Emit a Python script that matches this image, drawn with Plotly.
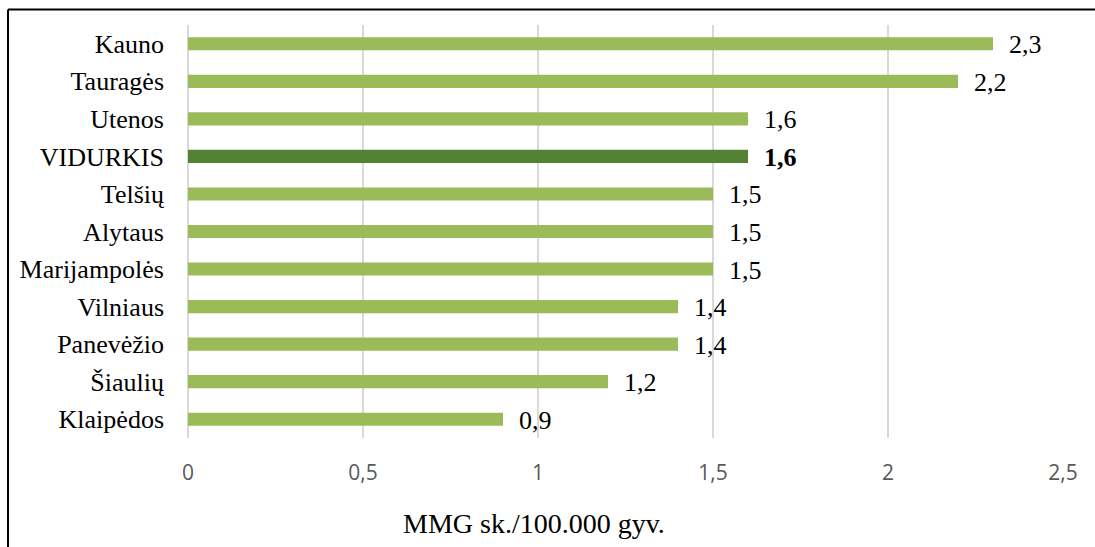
import plotly.graph_objects as go

# Regional values, top to bottom
regions = ["Kauno", "Tauragės", "Utenos", "VIDURKIS", "Telšių", "Alytaus",
           "Marijampolės", "Vilniaus", "Panevėžio", "Šiaulių", "Klaipėdos"]
values = [2.3, 2.2, 1.6, 1.6, 1.5, 1.5, 1.5, 1.4, 1.4, 1.2, 0.9]
average_label = "VIDURKIS"

x_ticks = [0, 0.5, 1, 1.5, 2, 2.5]
x_tick_text = ["0", "0,5", "1", "1,5", "2", "2,5"]
axis_title = "MMG sk./100.000 gyv."

LIGHT = "#9bbb59"
DARK = "#548235"
SERIF = "Liberation Serif, Times New Roman, serif"

colors = [DARK if r == average_label else LIGHT for r in regions]

fig = go.Figure(go.Bar(
    x=values, y=regions, orientation="h",
    marker=dict(color=colors, line=dict(width=0)),
    width=0.35, hoverinfo="skip",
))

# value labels to the right of each bar
for r, v in zip(regions, values):
    txt = f"{v:.1f}".replace(".", ",")
    if r == average_label:
        txt = f"<b>{txt}</b>"
    fig.add_annotation(
        x=v, y=r, xref="x", yref="y", text=txt, showarrow=False,
        xanchor="left", yanchor="middle", xshift=14, yshift=-1,
        font=dict(family=SERIF, size=26, color="#000000"),
    )

# axis title
fig.add_annotation(
    x=0.3954, y=-0.206, xref="paper", yref="paper", text=axis_title,
    showarrow=False, xanchor="center", yanchor="middle",
    font=dict(family=SERIF, size=28, color="#000000"),
)

# outer frame (top and left edges)
fig.add_shape(type="line", xref="paper", yref="paper",
              x0=-0.2057, x1=1.05, y0=1.0375, y1=1.0375,
              line=dict(color="#000000", width=2))
fig.add_shape(type="line", xref="paper", yref="paper",
              x0=-0.2057, x1=-0.2057, y0=1.0375, y1=-0.3,
              line=dict(color="#000000", width=2))

fig.update_layout(
    width=1095, height=547,
    margin=dict(l=188, r=32, t=25, b=109),
    paper_bgcolor="#ffffff", plot_bgcolor="#ffffff",
    showlegend=False,
    bargap=0.65,
    xaxis=dict(
        range=[0, 2.5], tickvals=x_ticks, ticktext=x_tick_text,
        showgrid=True, gridcolor="#d9d9d9", gridwidth=2,
        zeroline=True, zerolinecolor="#d9d9d9", zerolinewidth=2,
        showline=False, ticks="", ticklabelstandoff=20,
        tickfont=dict(family="Open Sans, sans-serif", size=21, color="#595959"),
    ),
    yaxis=dict(
        autorange="reversed", showgrid=False, zeroline=False, showline=False,
        ticks="", ticklabelstandoff=23,
        tickfont=dict(family=SERIF, size=26, color="#000000"),
    ),
)

fig.write_html("out.html")
